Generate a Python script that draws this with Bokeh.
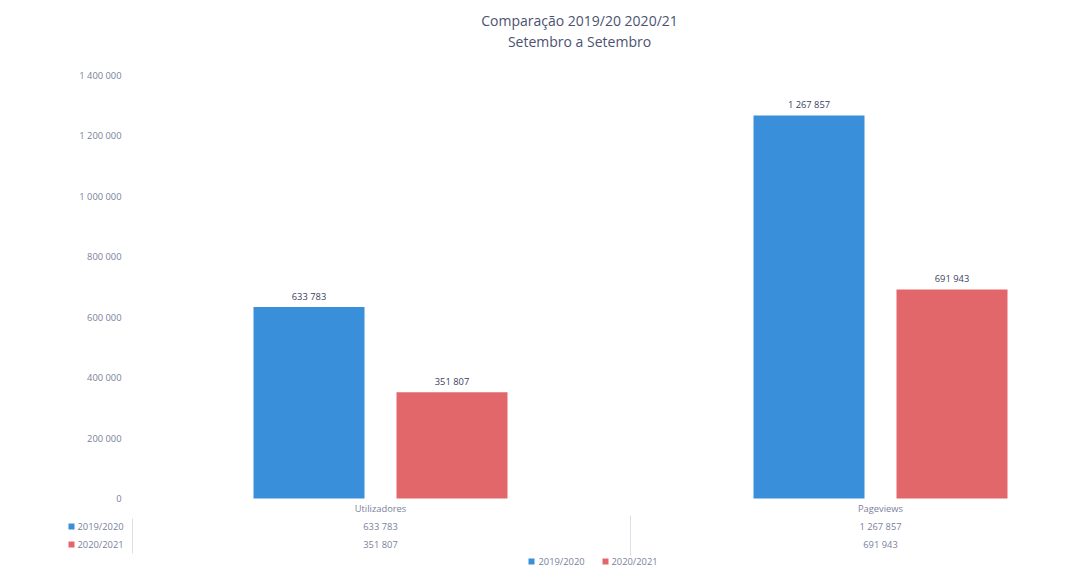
from bokeh.plotting import figure
from bokeh.models import ColumnDataSource, Range1d
from bokeh.core.properties import value
from bokeh.embed import file_html
from bokeh.resources import INLINE

# ---- data ----
categories = ["Utilizadores", "Pageviews"]
series_names = ["2019/2020", "2020/2021"]
values_2019_20 = [633783, 1267857]
values_2020_21 = [351807, 691943]
y_ticks = [0, 200000, 400000, 600000, 800000, 1000000, 1200000, 1400000]
title_lines = ["Comparação 2019/20 2020/21", "Setembro a Setembro"]

BLUE = "#3A8FDA"
RED = "#E2676A"
TXT = "#7a7f9c"
DARK = "#3b4160"
TITLE = "#4c5270"
FONT = value("Open Sans")

W, H = 1058, 570
CAT0_PX, PPX = 380.0, 500.0          # pixel of first category, px per category
Y0_PX, YTOP_PX = 498.0, 75.0         # pixel rows of 0 and of the top tick
YMAX = y_ticks[-1]
K = YMAX / (Y0_PX - YTOP_PX)         # data units per px (vertical)

def dx(px):
    return (px - CAT0_PX) / PPX

def dy(py):
    return (Y0_PX - py) * K

def fmt(v):
    return f"{v:,}".replace(",", " ")

p = figure(width=W, height=H, output_backend="svg", toolbar_location=None,
           x_range=Range1d(dx(0), dx(W)), y_range=Range1d(dy(H), dy(0)),
           min_border=0, title=None)
p.outline_line_color = None
p.grid.visible = False
p.axis.visible = False
p.background_fill_color = "white"

xs = list(range(len(categories)))
off = 0.143
bw = 0.222
src = ColumnDataSource(dict(
    x1=[x - off for x in xs], x2=[x + off for x in xs],
    v1=values_2019_20, v2=values_2020_21,
    t1=[fmt(v) for v in values_2019_20], t2=[fmt(v) for v in values_2020_21]))
p.vbar(x="x1", top="v1", width=bw, source=src, fill_color=BLUE, line_color=None)
p.vbar(x="x2", top="v2", width=bw, source=src, fill_color=RED, line_color=None)
p.text(x="x1", y="v1", text="t1", source=src, text_align="center", text_baseline="bottom",
       y_offset=-4, text_font=FONT, text_font_size="7pt", text_color=DARK)
p.text(x="x2", y="v2", text="t2", source=src, text_align="center", text_baseline="bottom",
       y_offset=-4, text_font=FONT, text_font_size="7pt", text_color=DARK)

# y axis tick labels (drawn as text through the y scale)
p.text(x=[dx(121)] * len(y_ticks), y=y_ticks, text=[fmt(t) for t in y_ticks],
       text_align="right", text_baseline="middle", text_font=FONT,
       text_font_size="7pt", text_color=TXT)

# title
p.text(x=[dx(579)] * 2, y=[dy(20), dy(41)], text=title_lines, text_align="center",
       text_baseline="middle", text_font=FONT, text_font_size="10.5pt", text_color=TITLE)

# data table under the plot
row_y = [dy(508), dy(526), dy(544)]
p.text(x=xs, y=[row_y[0]] * len(xs), text=categories, text_align="center", text_baseline="middle",
       text_font=FONT, text_font_size="7pt", text_color=TXT)
p.text(x=xs, y=[row_y[1]] * len(xs), text=[fmt(v) for v in values_2019_20], text_align="center",
       text_baseline="middle", text_font=FONT, text_font_size="7pt", text_color=TXT)
p.text(x=xs, y=[row_y[2]] * len(xs), text=[fmt(v) for v in values_2020_21], text_align="center",
       text_baseline="middle", text_font=FONT, text_font_size="7pt", text_color=TXT)
p.scatter(x=[dx(71)] * 2, y=row_y[1:], size=6, marker="square", fill_color=[BLUE, RED], line_color=None)
p.text(x=[dx(77)] * 2, y=row_y[1:], text=series_names, text_align="left", text_baseline="middle",
       text_font=FONT, text_font_size="7pt", text_color=TXT)
# faint table rules
p.segment(x0=[dx(132), 0.5], y0=[dy(518), dy(515)], x1=[dx(132), 0.5], y1=[dy(553), dy(555)],
          line_color="#dcdfe8", line_width=1)

# bottom legend
p.scatter(x=[dx(531), dx(605)], y=[dy(561)] * 2, size=6, marker="square",
          fill_color=[BLUE, RED], line_color=None)
p.text(x=[dx(538), dx(611)], y=[dy(561)] * 2, text=series_names, text_align="left",
       text_baseline="middle", text_font=FONT, text_font_size="7pt", text_color=TXT)

open("out.html", "w").write(file_html(p, INLINE))
